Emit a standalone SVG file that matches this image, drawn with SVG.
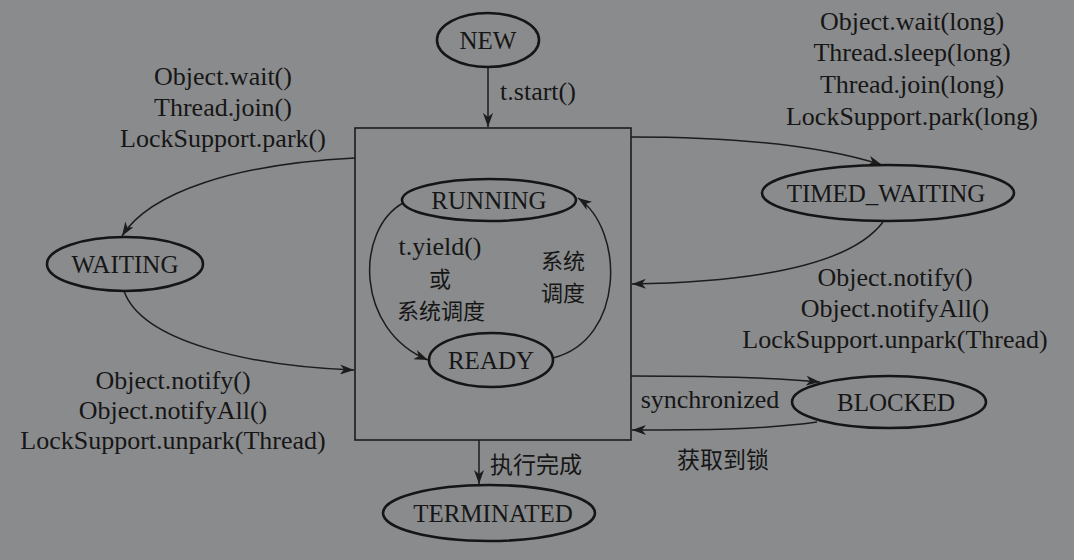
<svg xmlns="http://www.w3.org/2000/svg" width="1074" height="560" viewBox="0 0 1074 560">
<style>
.bg{fill:#8a8b8d}
.node{fill:none;stroke:#151515;stroke-width:2.6}
.box{fill:none;stroke:#1c1c1c;stroke-width:1.6}
.edge{fill:none;stroke:#1c1c1c;stroke-width:1.5}
text{fill:#161616}
.lbl{font-family:"Liberation Serif","Times New Roman",serif;font-size:26px;text-anchor:middle}
.el{font-family:"Liberation Serif","Times New Roman",serif;font-size:25px;text-anchor:middle}
.cjk{font-family:"Noto Sans CJK SC","Noto Sans",sans-serif;font-size:23px;text-anchor:middle}
.cjk2{font-family:"Noto Sans CJK SC","Noto Sans",sans-serif;font-size:22px;text-anchor:middle}
</style>
<defs>
<marker id="arr" viewBox="0 0 14 10" refX="14" refY="5" markerWidth="14" markerHeight="10" markerUnits="userSpaceOnUse" orient="auto">
<path d="M0,0 L14,5 L0,10 L4,5 Z" fill="#1c1c1c"/>
</marker>
</defs>
<rect class="bg" x="0" y="0" width="1074" height="560"/>
<g id="runnable-box"><rect class="box" x="355" y="128" width="276" height="312"/></g>
<g id="connectors">
<path class="edge" d="M488,68 L488,127" marker-end="url(#arr)"/>
<path class="edge" d="M355,158 C235,164 150,192 122,236" marker-end="url(#arr)"/>
<path class="edge" d="M124,291 C142,342 250,366 354,370" marker-end="url(#arr)"/>
<path class="edge" d="M631,137 C730,137 820,145 882,165" marker-end="url(#arr)"/>
<path class="edge" d="M883,222 C850,266 750,282 632,284" marker-end="url(#arr)"/>
<path class="edge" d="M631,376 C700,376 770,377 820,382" marker-end="url(#arr)"/>
<path class="edge" d="M817,422 C760,430 700,430 632,430" marker-end="url(#arr)"/>
<path class="edge" d="M479,440 L479,484" marker-end="url(#arr)"/>
<path class="edge" d="M403,203 C355,230 355,330 428,360" marker-end="url(#arr)"/>
<path class="edge" d="M553,358 C625,340 625,230 578,198" marker-end="url(#arr)"/>
</g>
<g id="edge-labels">
<text class="lbl" x="538" y="100">t.start()</text>
<text class="lbl"><tspan x="223" y="85">Object.wait()</tspan><tspan x="223" y="116">Thread.join()</tspan><tspan x="223" y="147">LockSupport.park()</tspan></text>
<text class="lbl"><tspan x="912" y="30">Object.wait(long)</tspan><tspan x="912" y="61">Thread.sleep(long)</tspan><tspan x="912" y="93">Thread.join(long)</tspan><tspan x="912" y="125">LockSupport.park(long)</tspan></text>
<text class="lbl"><tspan x="895" y="286">Object.notify()</tspan><tspan x="895" y="317">Object.notifyAll()</tspan><tspan x="895" y="348">LockSupport.unpark(Thread)</tspan></text>
<text class="lbl"><tspan x="173" y="389">Object.notify()</tspan><tspan x="173" y="419">Object.notifyAll()</tspan><tspan x="173" y="449">LockSupport.unpark(Thread)</tspan></text>
<text class="lbl" x="710" y="408">synchronized</text>
<text class="cjk" x="723" y="468">获取到锁</text>
<text class="cjk" x="536" y="473">执行完成</text>
<text class="lbl" x="440" y="255">t.yield()</text>
<text class="cjk2" x="440" y="287">或</text>
<text class="cjk2" x="441" y="319">系统调度</text>
<text class="cjk2" x="563" y="269">系统</text>
<text class="cjk2" x="563" y="301">调度</text>
</g>
<g id="NEW"><ellipse class="node" cx="488" cy="40" rx="51" ry="27"/><text class="el" x="488" y="49">NEW</text></g>
<g id="RUNNING"><ellipse class="node" cx="489" cy="200" rx="87" ry="21"/><text class="el" x="489" y="209">RUNNING</text></g>
<g id="READY"><ellipse class="node" cx="491" cy="360" rx="62" ry="27"/><text class="el" x="491" y="369">READY</text></g>
<g id="WAITING"><ellipse class="node" cx="125" cy="264" rx="78" ry="27"/><text class="el" x="125" y="273">WAITING</text></g>
<g id="TIMED_WAITING"><ellipse class="node" cx="888" cy="193" rx="126" ry="28"/><text class="el" x="886" y="202">TIMED_WAITING</text></g>
<g id="BLOCKED"><ellipse class="node" cx="889" cy="402" rx="97" ry="26"/><text class="el" x="896" y="411">BLOCKED</text></g>
<g id="TERMINATED"><ellipse class="node" cx="489" cy="513" rx="106" ry="28"/><text class="el" x="493" y="522">TERMINATED</text></g>
</svg>
